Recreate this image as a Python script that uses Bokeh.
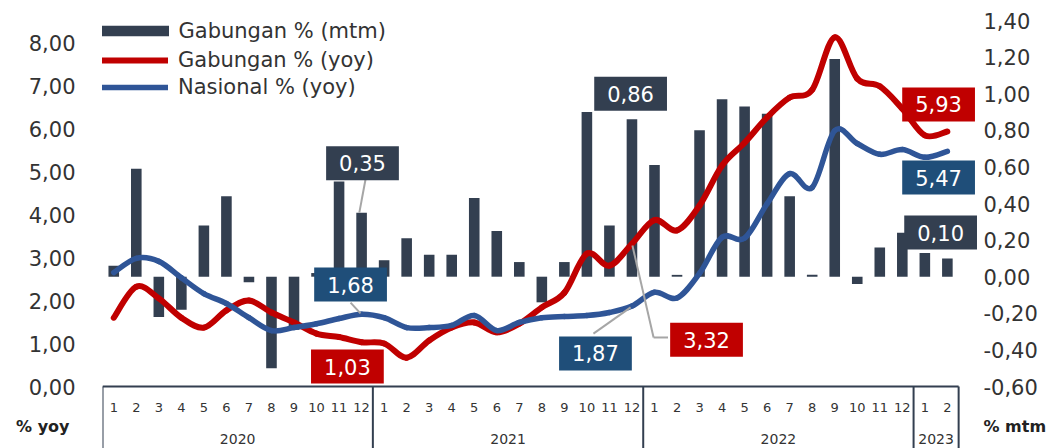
from bokeh.plotting import figure
from bokeh.models import (Range1d, LinearAxis, FixedTicker, CustomJSTickFormatter,
                          Legend, LegendItem, Label, ColumnDataSource)
from bokeh.core.properties import value
from bokeh.embed import file_html
from bokeh.resources import INLINE

# ---------------- data ----------------
years = ["2020", "2021", "2022", "2023"]
months_per_year = [12, 12, 12, 2]
month_labels = [str(m) for n in months_per_year for m in range(1, n + 1)]

# Gabungan % (mtm) - bars, right axis
mtm = [0.06, 0.59, -0.22, -0.18, 0.28, 0.44, -0.03, -0.50, -0.29, 0.02, 0.52, 0.35,
       0.09, 0.21, 0.12, 0.12, 0.43, 0.25, 0.08, -0.14, 0.08, 0.90, 0.28, 0.86,
       0.61, 0.01, 0.80, 0.97, 0.93, 0.89, 0.44, 0.01, 1.19, -0.04, 0.16, 0.24,
       0.13, 0.10]
# Gabungan % (yoy) - red line, left axis
gab_yoy = [1.60, 2.32, 2.05, 1.60, 1.37, 1.77, 2.00, 1.72, 1.49, 1.23, 1.15, 1.03,
           1.00, 0.67, 1.07, 1.37, 1.49, 1.26, 1.46, 1.84, 2.18, 3.09, 2.81, 3.32,
           3.87, 3.63, 4.21, 5.14, 5.67, 6.26, 6.72, 6.90, 8.12, 7.16, 6.98, 6.46,
           5.84, 5.93]
# Nasional % (yoy) - blue line, left axis
nas_yoy = [2.65, 2.98, 2.91, 2.53, 2.16, 1.93, 1.60, 1.30, 1.37, 1.46, 1.58, 1.68,
           1.60, 1.37, 1.37, 1.42, 1.65, 1.30, 1.49, 1.60, 1.63, 1.65, 1.72, 1.87,
           2.19, 2.06, 2.63, 3.47, 3.45, 4.25, 4.95, 4.63, 5.95, 5.65, 5.40, 5.51,
           5.33, 5.47]

yoy_ticks = [0, 1, 2, 3, 4, 5, 6, 7, 8]
mtm_ticks = [-0.6, -0.4, -0.2, 0.0, 0.2, 0.4, 0.6, 0.8, 1.0, 1.2, 1.4]

legend_labels = ["Gabungan % (mtm)", "Gabungan % (yoy)", "Nasional % (yoy)"]
unit_labels = ["% yoy", "% mtm"]

# ---------------- style / geometry ----------------
FONT = "DejaVu Sans"
NAVY = "#333F50"
RED = "#C00000"
BLUE = "#2F5597"
BLUEBOX = "#1F4E79"
GREY = "#A6A6A6"
TXT = "#333333"

n = len(month_labels)
xs = list(range(n))

W, H = 1053, 448
LEFT, RIGHT_EDGE, TOP = 102, 978, 14
PX_X = 22.53            # px per month
PX_YOY = 43.0           # px per 1 %-point (left)
PX_MTM = 183.0          # px per 1 %-point (right)
AXIS_DROP = 62          # px of category band below the 0-line (inside the frame)
frame_h = H - TOP

x_end = -0.5 + (RIGHT_EDGE - LEFT) / PX_X
yoy_lo = -AXIS_DROP / PX_YOY
yoy_hi = yoy_lo + frame_h / PX_YOY
mtm_lo = mtm_ticks[0] - AXIS_DROP / PX_MTM
mtm_hi = mtm_lo + frame_h / PX_MTM

p = figure(width=W, height=H, output_backend="svg", toolbar_location=None,
           x_range=Range1d(-0.5, x_end), y_range=Range1d(yoy_lo, yoy_hi),
           x_axis_type=None, y_axis_type=None,
           min_border_left=LEFT, min_border_right=W - RIGHT_EDGE,
           min_border_top=TOP, min_border_bottom=0)
p.extra_y_ranges = {"mtm": Range1d(mtm_lo, mtm_hi)}
p.outline_line_color = None
p.background_fill_color = "white"
p.border_fill_color = "white"

fmt = CustomJSTickFormatter(code="return tick.toFixed(2).replace('.', ',');")
axis_common = dict(axis_line_color=None, major_tick_line_color=None, minor_tick_line_color=None,
                   major_tick_out=0, major_tick_in=0, minor_tick_out=0, minor_tick_in=0,
                   major_label_text_font=FONT)

yl = LinearAxis(ticker=FixedTicker(ticks=yoy_ticks), formatter=fmt, major_label_standoff=27,
                major_label_text_font_size="21px", major_label_text_color=TXT, **axis_common)
p.add_layout(yl, "left")

yr = LinearAxis(y_range_name="mtm", ticker=FixedTicker(ticks=mtm_ticks), formatter=fmt,
                major_label_standoff=5, major_label_text_font_size="21px",
                major_label_text_color=TXT, **axis_common)
p.add_layout(yr, "right")

# unit labels ("% yoy" / "% mtm") as outer axes with a single labelled tick
yoy_unit_at = -40 / PX_YOY
mtm_unit_at = mtm_ticks[0] - 40 / PX_MTM
ul = LinearAxis(ticker=FixedTicker(ticks=[yoy_unit_at]),
                major_label_overrides={yoy_unit_at: unit_labels[0]},
                major_label_standoff=-44, major_label_text_font_size="16px",
                major_label_text_font_style="bold", major_label_text_color="#222222",
                **axis_common)
p.add_layout(ul, "left")
ur = LinearAxis(y_range_name="mtm", ticker=FixedTicker(ticks=[mtm_unit_at]),
                major_label_overrides={mtm_unit_at: unit_labels[1]},
                major_label_standoff=-57, major_label_text_font_size="16px",
                major_label_text_font_style="bold", major_label_text_color="#222222",
                **axis_common)
p.add_layout(ur, "right")

# ---------------- category band (months, years, separators) ----------------
seps = [-0.5]
for m in months_per_year:
    seps.append(seps[-1] + m)
year_centers = [(seps[i] + seps[i + 1]) / 2 for i in range(len(years))]

p.segment(x0=[seps[0]], y0=[0], x1=[seps[-1]], y1=[0], line_color=NAVY, line_width=2)
p.segment(x0=seps, y0=[0] * len(seps), x1=seps, y1=[yoy_lo] * len(seps),
          line_color=NAVY, line_width=2)
p.text(x=xs, y=[-21 / PX_YOY] * n, text=month_labels, text_align="center",
       text_baseline="middle", text_font=value(FONT), text_font_size="13px", text_color=TXT)
p.text(x=year_centers, y=[-52 / PX_YOY] * len(years), text=years, text_align="center",
       text_baseline="middle", text_font=value(FONT), text_font_size="14px", text_color=TXT)

# ---------------- bars and lines ----------------
bars = p.vbar(x=xs, top=mtm, bottom=0, width=0.47, fill_color=NAVY, line_color=None,
              y_range_name="mtm")


def smooth(xv, yv):
    m = len(xv)
    d = dict(x0=[], y0=[], x1=[], y1=[], cx0=[], cy0=[], cx1=[], cy1=[])
    for i in range(m - 1):
        a = max(i - 1, 0)
        b = min(i + 2, m - 1)
        d["x0"].append(xv[i]); d["y0"].append(yv[i])
        d["x1"].append(xv[i + 1]); d["y1"].append(yv[i + 1])
        d["cx0"].append(xv[i] + (xv[i + 1] - xv[a]) / 6)
        d["cy0"].append(yv[i] + (yv[i + 1] - yv[a]) / 6)
        d["cx1"].append(xv[i + 1] - (xv[b] - xv[i]) / 6)
        d["cy1"].append(yv[i + 1] - (yv[b] - yv[i]) / 6)
    return ColumnDataSource(d)


red = p.bezier(x0="x0", y0="y0", x1="x1", y1="y1", cx0="cx0", cy0="cy0", cx1="cx1", cy1="cy1",
               source=smooth(xs, gab_yoy), line_color=RED, line_width=6, line_cap="round")
blue = p.bezier(x0="x0", y0="y0", x1="x1", y1="y1", cx0="cx0", cy0="cy0", cx1="cx1", cy1="cy1",
                source=smooth(xs, nas_yoy), line_color=BLUE, line_width=5.5, line_cap="round")

legA = Legend(items=[LegendItem(label=legend_labels[0], renderers=[bars])],
              location=(-10.5, 343.5 + AXIS_DROP), glyph_width=85, glyph_height=13,
              label_standoff=2, padding=0, margin=0, border_line_color=None,
              background_fill_alpha=0, label_text_font=FONT, label_text_font_size="21px",
              label_text_color=TXT)
legB = Legend(items=[LegendItem(label=legend_labels[1], renderers=[red]),
                     LegendItem(label=legend_labels[2], renderers=[blue])],
              location=(-2, 287.5 + AXIS_DROP), glyph_width=68, glyph_height=20,
              label_standoff=10, spacing=3, padding=0, margin=0, border_line_color=None,
              background_fill_alpha=0, label_text_font=FONT, label_text_font_size="21px",
              label_text_color=TXT)
p.add_layout(legA)
p.add_layout(legB)


def num(v):
    return f"{v:.2f}".replace(".", ",")


# leader lines
last = n - 1
dec20 = 11
dec21 = 23
p.segment(x0=[dec20 + 0.17], y0=[0.53], x1=[dec20 - 0.1], y1=[mtm[dec20]],
          line_color=GREY, line_width=2, y_range_name="mtm")
p.segment(x0=[dec20 - 0.49, dec21 - 1.71, dec21 + 0.02, dec21 + 0.96],
          y0=[1.95, 1.23, gab_yoy[dec21] - 0.04, 1.14],
          x1=[dec20 - 0.05, dec21 - 0.06, dec21 + 0.96, dec21 + 1.6],
          y1=[nas_yoy[dec20] + 0.02, nas_yoy[dec21] - 0.03, 1.14, 1.14],
          line_color=GREY, line_width=2)


def box(x, y, text, color):
    p.add_layout(Label(x=x, y=y, text=text, text_align="center", text_baseline="middle",
                       text_font=FONT, text_font_size="21px", text_color="white",
                       background_fill_color=color,
                       padding=dict(left=13, right=13, top=9, bottom=9)))


box(dec20 + 0.04, 5.19, num(mtm[dec20]), NAVY)
box(dec20 - 0.49, 2.37, num(nas_yoy[dec20]), BLUEBOX)
box(dec20 - 0.63, 0.465, num(gab_yoy[dec20]), RED)
box(dec21 - 0.06, 6.81, num(mtm[dec21]), NAVY)
box(dec21 - 1.62, 0.77, num(nas_yoy[dec21]), BLUEBOX)
box(dec21 + 3.31, 1.09, num(gab_yoy[dec21]), RED)
box(last - 0.39, 6.56, num(gab_yoy[last]), RED)
box(last - 0.39, 4.86, num(nas_yoy[last]), BLUEBOX)
box(last - 0.30, 3.58, num(mtm[last]), NAVY)

open("out.html", "w").write(file_html(p, INLINE))
